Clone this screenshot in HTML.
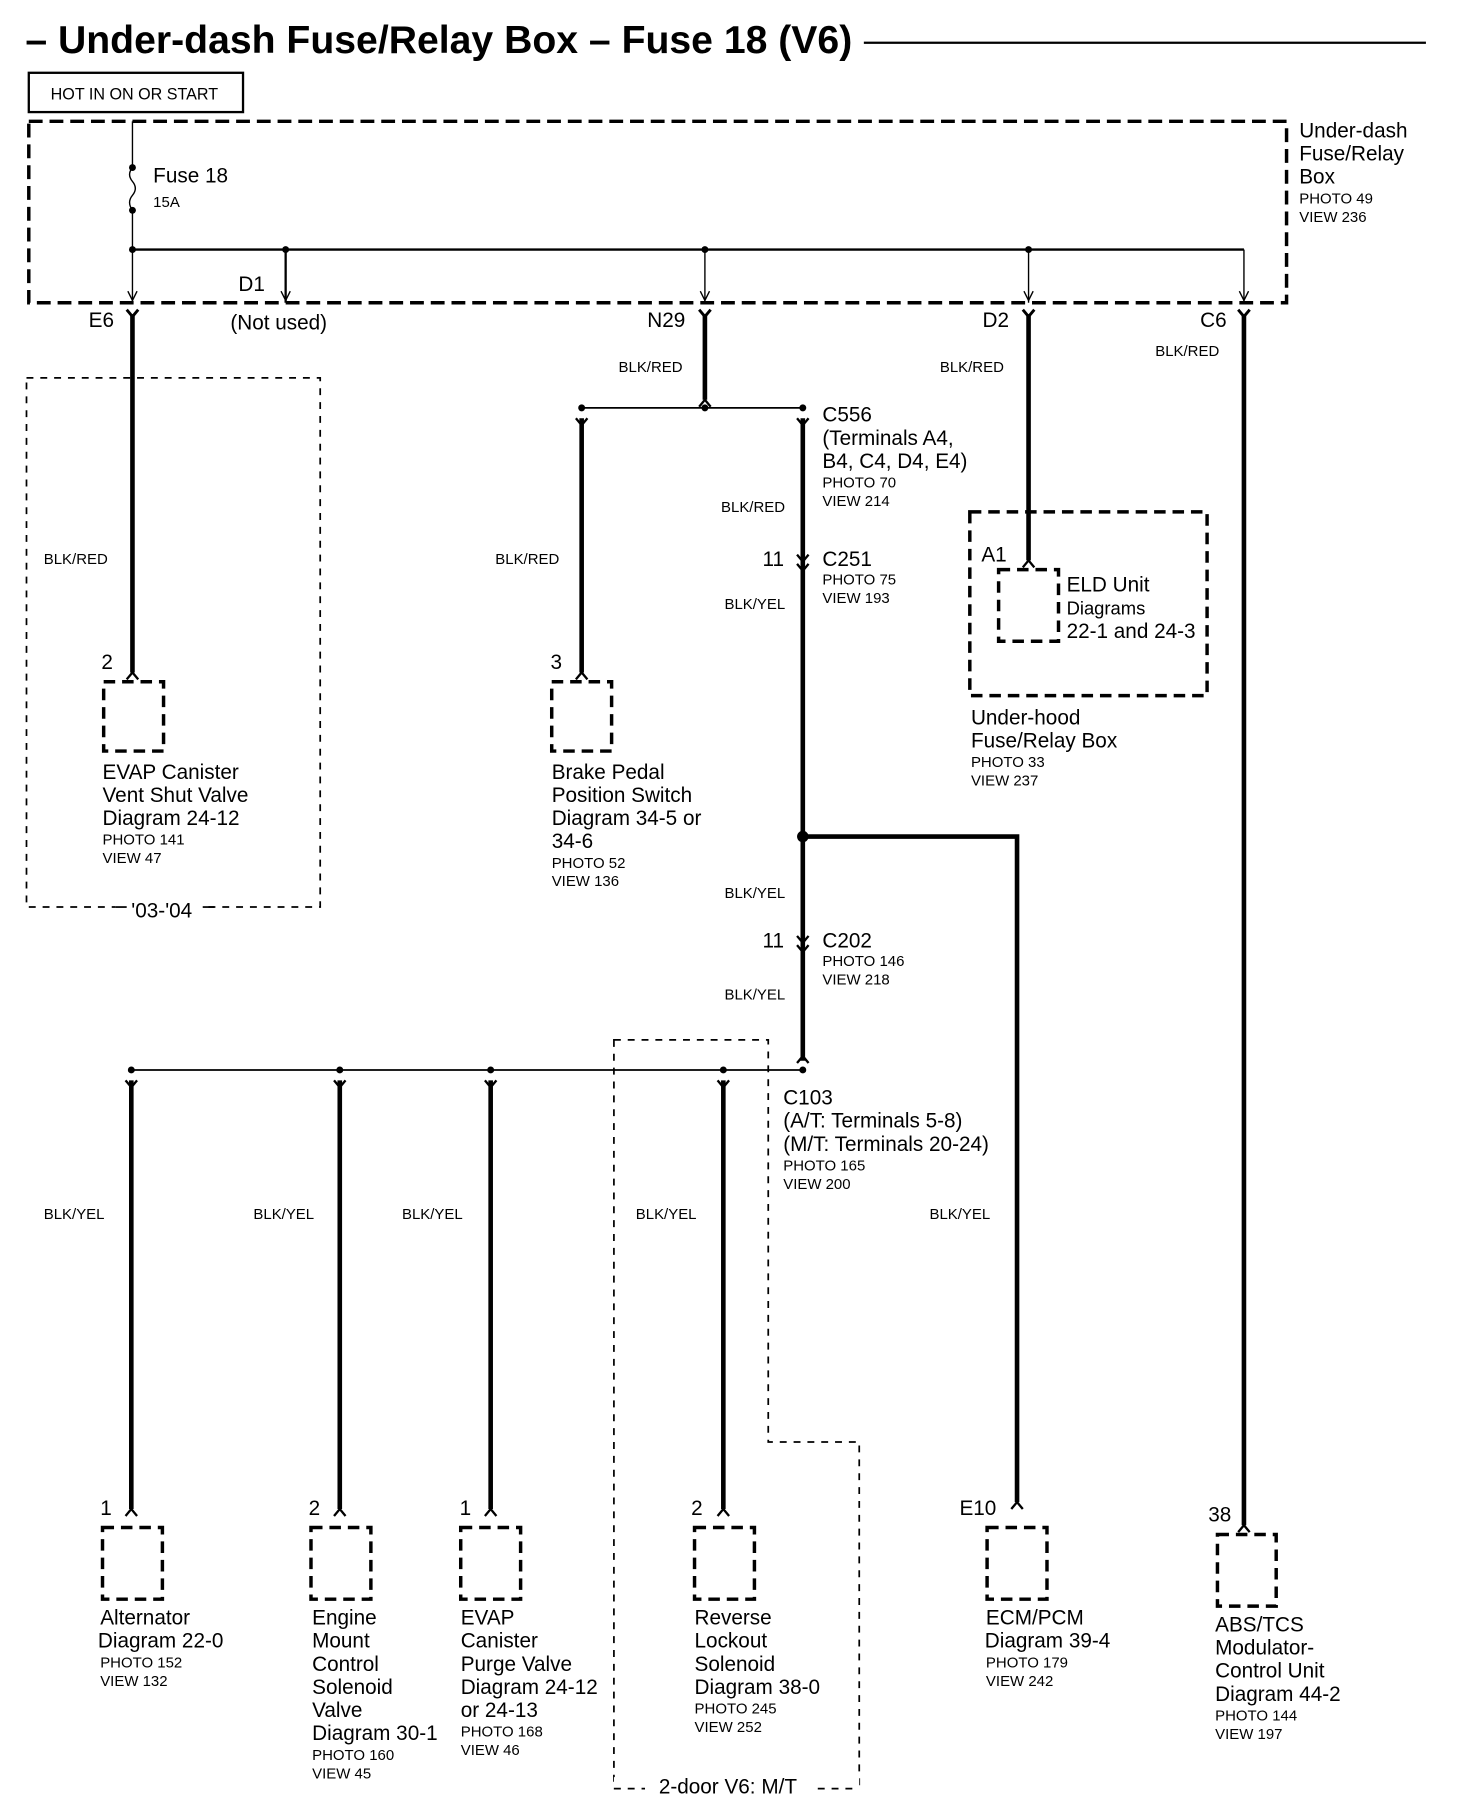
<!DOCTYPE html>
<html><head><meta charset="utf-8"><style>
html,body{margin:0;padding:0;background:#fff}
svg{display:block}
text{font-family:"Liberation Sans",sans-serif;fill:#000}
.b{font-size:18px}
.s{font-size:13px}
.w{font-size:13px}
</style></head><body>
<svg width="1472" height="1806" viewBox="0 0 1278 1563" preserveAspectRatio="none" xmlns="http://www.w3.org/2000/svg">
<g stroke="#000" fill="none">
<line x1="750" y1="37" x2="1238" y2="37" stroke-width="2"/>
<rect x="25" y="63" width="186" height="34" stroke-width="2"/>
<rect x="25" y="105" width="1092" height="157" stroke-width="3" stroke-dasharray="12,6"/>
<line x1="115" y1="105" x2="115" y2="145" stroke-width="1.2"/>
<path d="M115 145 q-5 6 0 12 q5 6 0 12 q-5 6 0 13" stroke-width="1.2"/>
<line x1="115" y1="182" x2="115" y2="262" stroke-width="1.2"/>
<line x1="115" y1="216" x2="1080" y2="216" stroke-width="2"/>
<line x1="248" y1="216" x2="248" y2="262" stroke-width="2"/>
<line x1="612" y1="216" x2="612" y2="262" stroke-width="1.2"/>
<line x1="893" y1="216" x2="893" y2="262" stroke-width="1.2"/>
<line x1="1080" y1="216" x2="1080" y2="262" stroke-width="1.2"/>
<g stroke-width="1.2">
<path d="M111 252 L115 260 L119 252"/><path d="M244 252 L248 260 L252 252"/>
<path d="M608 252 L612 260 L616 252"/><path d="M889 252 L893 260 L897 252"/>
<path d="M1076 252 L1080 260 L1084 252"/>
</g>
<g stroke-width="2.5">
<path d="M110 268 L115 274 L120 268"/><path d="M607 268 L612 274 L617 268"/>
<path d="M888 268 L893 274 L898 268"/><path d="M1075 268 L1080 274 L1085 268"/>
</g>
<g stroke-width="4">
<line x1="115" y1="272" x2="115" y2="582"/>
<line x1="612" y1="272" x2="612" y2="346"/>
<line x1="505" y1="362" x2="505" y2="582"/>
<line x1="697" y1="362" x2="697" y2="918"/>
<line x1="893" y1="272" x2="893" y2="485"/>
<line x1="1080" y1="272" x2="1080" y2="1320"/>
<polyline points="697,724 883,724 883,1300"/>
<line x1="114" y1="935" x2="114" y2="1306"/>
<line x1="295" y1="935" x2="295" y2="1306"/>
<line x1="426" y1="935" x2="426" y2="1306"/>
<line x1="628" y1="935" x2="628" y2="1306"/>
</g>
<line x1="505" y1="353" x2="697" y2="353" stroke-width="1.5"/>
<line x1="114" y1="926" x2="697" y2="926" stroke-width="1.5"/>
<g stroke-width="2">
<path d="M607 352 L612 346 L617 352"/>
<path d="M500 362 L505 368 L510 362"/><path d="M692 362 L697 368 L702 362"/>
<path d="M692 480 L697 486 L702 480"/><path d="M692 488 L697 494 L702 488"/>
<path d="M692 810 L697 816 L702 810"/><path d="M692 818 L697 824 L702 818"/>
<path d="M692 920 L697 914 L702 920"/>
<path d="M109 935 L114 941 L119 935"/><path d="M290 935 L295 941 L300 935"/>
<path d="M421 935 L426 941 L431 935"/><path d="M623 935 L628 941 L633 935"/>
<path d="M110 588 L115 582 L120 588"/><path d="M500 588 L505 582 L510 588"/>
<path d="M888 491 L893 485 L898 491"/>
<path d="M109 1312 L114 1306 L119 1312"/><path d="M290 1312 L295 1306 L300 1312"/>
<path d="M421 1312 L426 1306 L431 1312"/><path d="M623 1312 L628 1306 L633 1312"/>
<path d="M878 1306 L883 1300 L888 1306"/><path d="M1075 1326 L1080 1320 L1085 1326"/>
</g>
<g stroke-width="3" stroke-dasharray="10,6">
<rect x="90" y="590" width="52" height="60"/>
<rect x="479" y="590" width="52" height="60"/>
<rect x="867" y="493" width="52" height="62"/>
<rect x="89" y="1322" width="52" height="62"/>
<rect x="270" y="1322" width="52" height="62"/>
<rect x="400" y="1322" width="52" height="62"/>
<rect x="603" y="1322" width="52" height="62"/>
<rect x="857" y="1322" width="52" height="62"/>
<rect x="1057" y="1328" width="51" height="62"/>
<rect x="842" y="443" width="206" height="159"/>
</g>
<g stroke-width="1.5" stroke-dasharray="6,6">
<rect x="23" y="327" width="255" height="458"/>
<path d="M533 900 L667 900 L667 1248 L746 1248 L746 1548 L533 1548 Z"/>
</g>
</g>
<g fill="#000">
<circle cx="115" cy="145" r="3"/><circle cx="115" cy="182" r="3"/>
<circle cx="115" cy="216" r="3"/><circle cx="248" cy="216" r="3"/>
<circle cx="612" cy="216" r="3"/><circle cx="893" cy="216" r="3"/>
<circle cx="505" cy="353" r="3"/><circle cx="612" cy="353" r="3"/><circle cx="697" cy="353" r="3"/>
<circle cx="697" cy="724" r="5"/>
<circle cx="114" cy="926" r="3"/><circle cx="295" cy="926" r="3"/><circle cx="426" cy="926" r="3"/>
<circle cx="628" cy="926" r="3"/><circle cx="697" cy="926" r="3"/>
</g>
<rect x="533" y="1538" width="213" height="20" fill="#fff"/>
<line x1="533" y1="1548" x2="560" y2="1548" stroke="#000" stroke-width="1.5" stroke-dasharray="6,6"/>
<line x1="710" y1="1548" x2="746" y2="1548" stroke="#000" stroke-width="1.5" stroke-dasharray="6,6"/>
<rect x="100" y="782" width="80" height="12" fill="#fff"/>
<line x1="100" y1="785" x2="110" y2="785" stroke="#000" stroke-width="1.5"/>
<line x1="176" y1="785" x2="186" y2="785" stroke="#000" stroke-width="1.5"/>

<text x="22" y="46" style="font-size:34px;font-weight:bold">– Under-dash Fuse/Relay Box – Fuse 18 (V6)</text>
<text x="44" y="86" class="s" style="font-size:14px">HOT IN ON OR START</text>
<text x="1128" y="119" class="b">Under-dash</text>
<text x="1128" y="139" class="b">Fuse/Relay</text>
<text x="1128" y="159" class="b">Box</text>
<text x="1128" y="176" class="s">PHOTO 49</text>
<text x="1128" y="192" class="s">VIEW 236</text>
<text x="133" y="158" class="b">Fuse 18</text>
<text x="133" y="179" class="s">15A</text>
<text x="207" y="252" class="b">D1</text>
<text x="77" y="283" class="b">E6</text>
<text x="200" y="285" class="b">(Not used)</text>
<text x="562" y="283" class="b">N29</text>
<text x="853" y="283" class="b">D2</text>
<text x="1042" y="283" class="b">C6</text>
<text x="1003" y="308" class="w">BLK/RED</text>
<text x="537" y="322" class="w">BLK/RED</text>
<text x="816" y="322" class="w">BLK/RED</text>
<text x="714" y="365" class="b">C556</text>
<text x="714" y="385" class="b">(Terminals A4,</text>
<text x="714" y="405" class="b">B4, C4, D4, E4)</text>
<text x="714" y="422" class="s">PHOTO 70</text>
<text x="714" y="438" class="s">VIEW 214</text>
<text x="626" y="443" class="w">BLK/RED</text>
<text x="38" y="488" class="w">BLK/RED</text>
<text x="430" y="488" class="w">BLK/RED</text>
<text x="662" y="490" class="b">11</text>
<text x="714" y="490" class="b">C251</text>
<text x="714" y="506" class="s">PHOTO 75</text>
<text x="714" y="522" class="s">VIEW 193</text>
<text x="629" y="527" class="w">BLK/YEL</text>
<text x="852" y="486" class="b">A1</text>
<text x="926" y="512" class="b">ELD Unit</text>
<text x="926" y="532" class="s" style="font-size:16px">Diagrams</text>
<text x="926" y="552" class="b">22-1 and 24-3</text>
<text x="88" y="579" class="b">2</text>
<text x="478" y="579" class="b">3</text>
<text x="843" y="627" class="b">Under-hood</text>
<text x="843" y="647" class="b">Fuse/Relay Box</text>
<text x="843" y="664" class="s">PHOTO 33</text>
<text x="843" y="680" class="s">VIEW 237</text>
<text x="89" y="674" class="b">EVAP Canister</text>
<text x="89" y="694" class="b">Vent Shut Valve</text>
<text x="89" y="714" class="b">Diagram 24-12</text>
<text x="89" y="731" class="s">PHOTO 141</text>
<text x="89" y="747" class="s">VIEW 47</text>
<text x="479" y="674" class="b">Brake Pedal</text>
<text x="479" y="694" class="b">Position Switch</text>
<text x="479" y="714" class="b">Diagram 34-5 or</text>
<text x="479" y="734" class="b">34-6</text>
<text x="479" y="751" class="s">PHOTO 52</text>
<text x="479" y="767" class="s">VIEW 136</text>
<text x="629" y="777" class="w">BLK/YEL</text>
<text x="114" y="794" class="b">'03-'04</text>
<text x="662" y="820" class="b">11</text>
<text x="714" y="820" class="b">C202</text>
<text x="714" y="836" class="s">PHOTO 146</text>
<text x="714" y="852" class="s">VIEW 218</text>
<text x="629" y="865" class="w">BLK/YEL</text>
<text x="680" y="956" class="b">C103</text>
<text x="680" y="976" class="b">(A/T: Terminals 5-8)</text>
<text x="680" y="996" class="b">(M/T: Terminals 20-24)</text>
<text x="680" y="1013" class="s">PHOTO 165</text>
<text x="680" y="1029" class="s">VIEW 200</text>
<text x="38" y="1055" class="w">BLK/YEL</text>
<text x="220" y="1055" class="w">BLK/YEL</text>
<text x="349" y="1055" class="w">BLK/YEL</text>
<text x="552" y="1055" class="w">BLK/YEL</text>
<text x="807" y="1055" class="w">BLK/YEL</text>
<text x="87" y="1311" class="b">1</text>
<text x="268" y="1311" class="b">2</text>
<text x="399" y="1311" class="b">1</text>
<text x="600" y="1311" class="b">2</text>
<text x="833" y="1311" class="b">E10</text>
<text x="1049" y="1317" class="b">38</text>
<text x="87" y="1406" class="b">Alternator</text>
<text x="85" y="1426" class="b">Diagram 22-0</text>
<text x="87" y="1443" class="s">PHOTO 152</text>
<text x="87" y="1459" class="s">VIEW 132</text>
<text x="271" y="1406" class="b">Engine</text>
<text x="271" y="1426" class="b">Mount</text>
<text x="271" y="1446" class="b">Control</text>
<text x="271" y="1466" class="b">Solenoid</text>
<text x="271" y="1486" class="b">Valve</text>
<text x="271" y="1506" class="b">Diagram 30-1</text>
<text x="271" y="1523" class="s">PHOTO 160</text>
<text x="271" y="1539" class="s">VIEW 45</text>
<text x="400" y="1406" class="b">EVAP</text>
<text x="400" y="1426" class="b">Canister</text>
<text x="400" y="1446" class="b">Purge Valve</text>
<text x="400" y="1466" class="b">Diagram 24-12</text>
<text x="400" y="1486" class="b">or 24-13</text>
<text x="400" y="1503" class="s">PHOTO 168</text>
<text x="400" y="1519" class="s">VIEW 46</text>
<text x="603" y="1406" class="b">Reverse</text>
<text x="603" y="1426" class="b">Lockout</text>
<text x="603" y="1446" class="b">Solenoid</text>
<text x="603" y="1466" class="b">Diagram 38-0</text>
<text x="603" y="1483" class="s">PHOTO 245</text>
<text x="603" y="1499" class="s">VIEW 252</text>
<text x="856" y="1406" class="b">ECM/PCM</text>
<text x="855" y="1426" class="b">Diagram 39-4</text>
<text x="856" y="1443" class="s">PHOTO 179</text>
<text x="856" y="1459" class="s">VIEW 242</text>
<text x="1055" y="1412" class="b">ABS/TCS</text>
<text x="1055" y="1432" class="b">Modulator-</text>
<text x="1055" y="1452" class="b">Control Unit</text>
<text x="1055" y="1472" class="b">Diagram 44-2</text>
<text x="1055" y="1489" class="s">PHOTO 144</text>
<text x="1055" y="1505" class="s">VIEW 197</text>
<text x="572" y="1552" class="b">2-door V6: M/T</text>
</svg>
</body></html>
